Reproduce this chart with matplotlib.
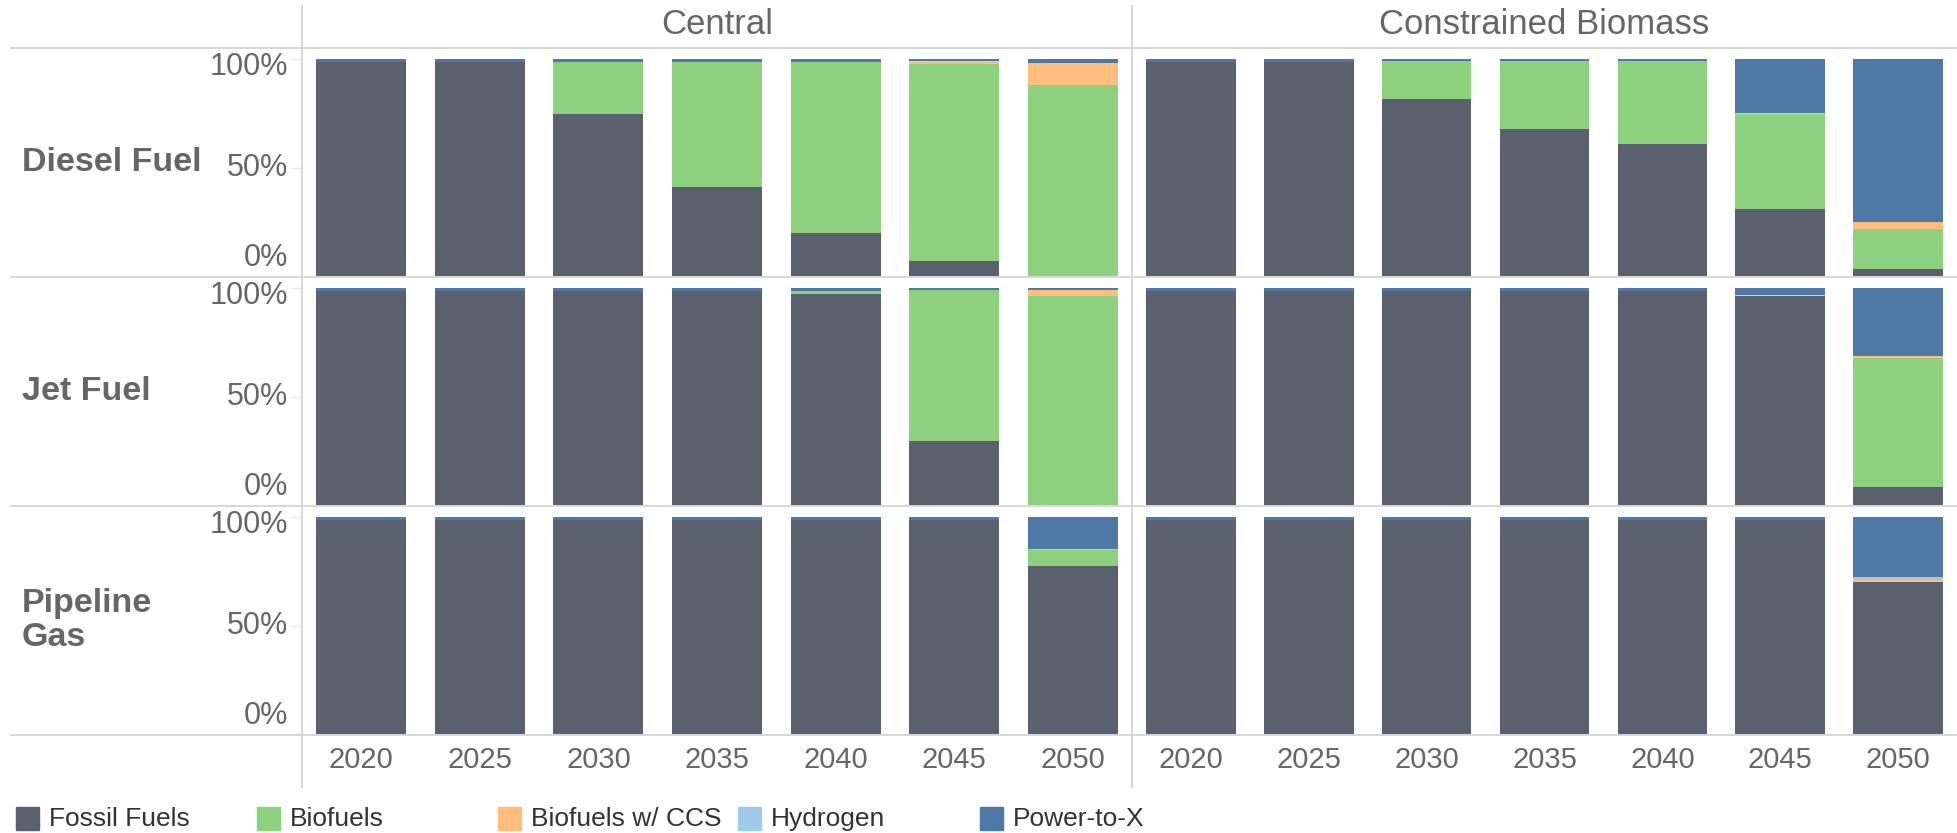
import numpy as np
import matplotlib
matplotlib.use("Agg")
import matplotlib.pyplot as plt
import matplotlib.transforms as mtransforms

plt.rcParams['font.family'] = ['Liberation Sans', 'DejaVu Sans']

# Shares of each fuel pool (fractions of 1).
years = ["2020", "2025", "2030", "2035", "2040", "2045", "2050"]
scenarios = ["Central", "Constrained Biomass"]
fuels = ["Diesel Fuel", "Jet Fuel", "Pipeline\nGas"]
sources = ["Fossil Fuels", "Biofuels", "Biofuels w/ CCS", "Hydrogen", "Power-to-X"]
colors = ["#5a606e", "#8dd17e", "#ffbe7d", "#a0cbe8", "#4e79a7"]

# Diesel fuel
diesel_central_fossil = [0.99, 0.99, 0.75, 0.41, 0.197, 0.069, 0.0]
diesel_central_bio = [0.0, 0.0, 0.24, 0.58, 0.793, 0.910, 0.882]
diesel_central_ccs = [0.0, 0.0, 0.0, 0.0, 0.0, 0.014, 0.102]
diesel_central_h2 = [0.0, 0.0, 0.0, 0.0, 0.0, 0.0, 0.0]
diesel_central_ptx = [0.01, 0.01, 0.01, 0.01, 0.01, 0.007, 0.016]

diesel_cb_fossil = [0.99, 0.99, 0.818, 0.679, 0.61, 0.309, 0.032]
diesel_cb_bio = [0.0, 0.0, 0.175, 0.314, 0.383, 0.441, 0.185]
diesel_cb_ccs = [0.0, 0.0, 0.0, 0.0, 0.0, 0.004, 0.032]
diesel_cb_h2 = [0.0, 0.0, 0.0, 0.0, 0.0, 0.0, 0.0]
diesel_cb_ptx = [0.01, 0.01, 0.007, 0.007, 0.007, 0.246, 0.751]

# Jet fuel
jet_central_fossil = [0.99, 0.99, 0.99, 0.99, 0.976, 0.295, 0.0]
jet_central_bio = [0.0, 0.0, 0.0, 0.0, 0.014, 0.697, 0.965]
jet_central_ccs = [0.0, 0.0, 0.0, 0.0, 0.0, 0.0, 0.027]
jet_central_h2 = [0.0, 0.0, 0.0, 0.0, 0.0, 0.0, 0.0]
jet_central_ptx = [0.01, 0.01, 0.01, 0.01, 0.01, 0.008, 0.008]

jet_cb_fossil = [0.99, 0.99, 0.99, 0.99, 0.99, 0.966, 0.082]
jet_cb_bio = [0.0, 0.0, 0.0, 0.0, 0.0, 0.0, 0.596]
jet_cb_ccs = [0.0, 0.0, 0.0, 0.0, 0.0, 0.004, 0.009]
jet_cb_h2 = [0.0, 0.0, 0.0, 0.0, 0.0, 0.0, 0.0]
jet_cb_ptx = [0.01, 0.01, 0.01, 0.01, 0.01, 0.030, 0.313]

# Pipeline gas
gas_central_fossil = [0.99, 0.99, 0.99, 0.99, 0.99, 0.99, 0.778]
gas_central_bio = [0.0, 0.0, 0.0, 0.0, 0.0, 0.0, 0.071]
gas_central_ccs = [0.0, 0.0, 0.0, 0.0, 0.0, 0.0, 0.0]
gas_central_h2 = [0.0, 0.0, 0.0, 0.0, 0.0, 0.0, 0.005]
gas_central_ptx = [0.01, 0.01, 0.01, 0.01, 0.01, 0.01, 0.146]

gas_cb_fossil = [0.99, 0.99, 0.99, 0.99, 0.99, 0.99, 0.70]
gas_cb_bio = [0.0, 0.0, 0.0, 0.0, 0.0, 0.0, 0.0]
gas_cb_ccs = [0.0, 0.0, 0.0, 0.0, 0.0, 0.0, 0.009]
gas_cb_h2 = [0.0, 0.0, 0.0, 0.0, 0.0, 0.0, 0.014]
gas_cb_ptx = [0.01, 0.01, 0.01, 0.01, 0.01, 0.01, 0.277]

panels = [
    [[diesel_central_fossil, diesel_central_bio, diesel_central_ccs, diesel_central_h2, diesel_central_ptx],
     [diesel_cb_fossil, diesel_cb_bio, diesel_cb_ccs, diesel_cb_h2, diesel_cb_ptx]],
    [[jet_central_fossil, jet_central_bio, jet_central_ccs, jet_central_h2, jet_central_ptx],
     [jet_cb_fossil, jet_cb_bio, jet_cb_ccs, jet_cb_h2, jet_cb_ptx]],
    [[gas_central_fossil, gas_central_bio, gas_central_ccs, gas_central_h2, gas_central_ptx],
     [gas_cb_fossil, gas_cb_bio, gas_cb_ccs, gas_cb_h2, gas_cb_ptx]],
]

W, H = 1957, 833
text_col = "#666666"
line_col = "#d4d4d4"

fig = plt.figure(figsize=(W / 100, H / 100), dpi=100)

# panel layout in pixels
row_top = [48, 277, 506]
row_h = 229
col_x = [302, 1132]
col_w = [830, 825]


def px_box(x, y, w, h):
    return [x / W, 1 - (y + h) / H, w / W, h / H]


x = np.arange(len(years))
for r in range(3):
    for c in range(2):
        ax = fig.add_axes(px_box(col_x[c], row_top[r], col_w[c], row_h))
        bottom = np.zeros(len(years))
        for k in range(len(sources)):
            vals = np.array(panels[r][c][k])
            ax.bar(x, vals, width=0.76, bottom=bottom, color=colors[k], linewidth=0)
            bottom += vals
        ax.set_xlim(-0.5, len(years) - 0.5)
        ax.set_ylim(-0.005, 1.053)
        for s in ax.spines.values():
            s.set_visible(False)
        ax.set_yticks([0, 0.5, 1])
        ax.set_yticklabels([])
        ax.tick_params(axis='y', length=9, color="#ebebeb", width=1)
        if c == 1:
            ax.tick_params(axis='y', length=0)
        if r == 2:
            ax.set_xticks(x)
            ax.set_xticklabels(years, fontsize=21, color=text_col)
            ax.tick_params(axis='x', length=0, pad=8)
        else:
            ax.set_xticks([])
        if c == 0:
            trans = mtransforms.blended_transform_factory(fig.transFigure, ax.transData)
            for yv, lab in [(0.965, "100%"), (0.5, "50%"), (0.085, "0%")]:
                fig.text(288 / W, yv, lab, transform=trans, fontsize=22, color=text_col,
                         ha='right', va='center')
            fig.text(22 / W, 1 - (row_top[r] + row_h / 2) / H, fuels[r], fontsize=24.5,
                     color=text_col, ha='left', va='center', fontweight='bold',
                     linespacing=1.15)

# scenario headers
for c in range(2):
    fig.text((col_x[c] + col_w[c] / 2) / W, 1 - 25 / H, scenarios[c], fontsize=25,
             color=text_col, ha='center', va='center')

# separator lines
for y in [48, 277, 506, 735]:
    fig.add_artist(plt.Line2D([11 / W, 1], [1 - y / H, 1 - y / H], color=line_col, lw=1.3))
fig.add_artist(plt.Line2D([302 / W, 302 / W], [1 - 6 / H, 1 - 787 / H], color=line_col, lw=1.3))
fig.add_artist(plt.Line2D([1132 / W, 1132 / W], [1 - 6 / H, 1 - 787 / H], color=line_col, lw=1.3))

# legend
leg_x = [16, 257, 498, 738, 980]
for k in range(len(sources)):
    fig.add_artist(plt.Rectangle((leg_x[k] / W, 1 - 830 / H), 23 / W, 23 / H,
                                 color=colors[k], transform=fig.transFigure))
    fig.text((leg_x[k] + 33) / W, 1 - 819 / H, sources[k], fontsize=19, color="#333333",
             ha='left', va='center')

fig.savefig("out.png", dpi=100)
